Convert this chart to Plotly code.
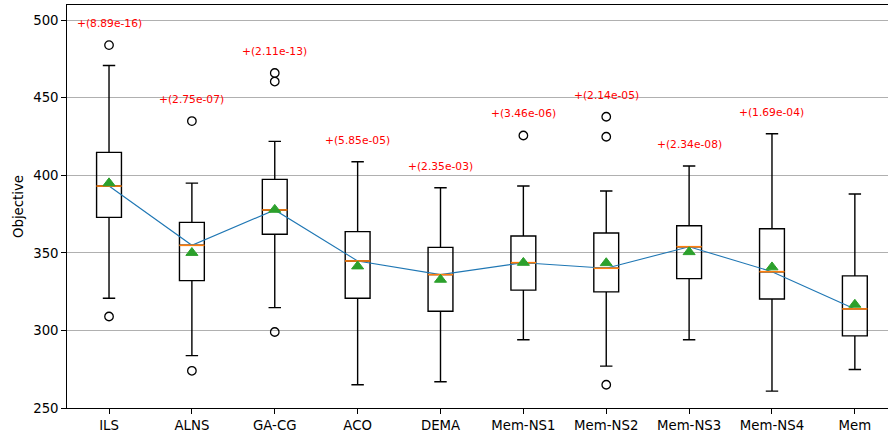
import plotly.graph_objects as go

methods = ["ILS", "ALNS", "GA-CG", "ACO", "DEMA", "Mem-NS1", "Mem-NS2", "Mem-NS3", "Mem-NS4", "Mem"]
positions = list(range(1, len(methods) + 1))

q1 = [372.9, 332.1, 362.0, 320.8, 312.4, 326.0, 324.9, 333.4, 320.3, 296.5]
median = [393.1, 354.9, 377.7, 344.8, 336.0, 343.7, 340.1, 354.0, 337.9, 313.9]
q3 = [414.8, 369.7, 397.4, 363.7, 353.6, 360.9, 362.8, 367.5, 365.6, 335.2]
lower_whisker = [320.8, 283.8, 314.7, 265.0, 266.9, 294.0, 277.0, 294.0, 260.9, 274.8]
upper_whisker = [470.8, 395.0, 421.9, 408.8, 392.0, 393.1, 389.9, 406.0, 426.8, 388.0]
means = [395.0, 350.1, 377.9, 341.4, 332.8, 343.7, 343.5, 350.6, 340.8, 316.7]
outliers = [
    [484.0, 309.0],
    [435.0, 274.0],
    [466.0, 460.5, 299.0],
    [],
    [],
    [425.7],
    [437.8, 424.9, 265.0],
    [],
    [],
    [],
]
p_labels = ["+(8.89e-16)", "+(2.75e-07)", "+(2.11e-13)", "+(5.85e-05)", "+(2.35e-03)",
            "+(3.46e-06)", "+(2.14e-05)", "+(2.34e-08)", "+(1.69e-04)", None]
y_ticks = [250, 300, 350, 400, 450, 500]

FONT = "DejaVu Sans"
fig = go.Figure()

fig.add_trace(go.Box(
    x=positions, q1=q1, median=median, q3=q3,
    lowerfence=lower_whisker, upperfence=upper_whisker,
    width=0.3, whiskerwidth=0.5, boxpoints=False,
    line=dict(color="black", width=1.4), fillcolor="rgba(0,0,0,0)",
    showlegend=False, hoverinfo="skip",
))

# line connecting medians
fig.add_trace(go.Scatter(
    x=positions, y=median, mode="lines",
    line=dict(color="#1f77b4", width=1.1), showlegend=False, hoverinfo="skip",
))

# orange medians
fig.add_trace(go.Scatter(
    x=positions, y=median, mode="markers",
    marker=dict(symbol="line-ew", size=18, line=dict(color="#ff7f0e", width=1.6)),
    showlegend=False, hoverinfo="skip",
))

# means
fig.add_trace(go.Scatter(
    x=positions, y=means, mode="markers",
    marker=dict(symbol="triangle-up", size=10.5, color="#2ca02c",
                line=dict(color="#2ca02c", width=1)),
    showlegend=False, hoverinfo="skip",
))

# outliers
ox, oy = [], []
for p, vals in zip(positions, outliers):
    for v in vals:
        ox.append(p)
        oy.append(v)
fig.add_trace(go.Scatter(
    x=ox, y=oy, mode="markers",
    marker=dict(symbol="circle-open", size=8.5, color="black", line=dict(color="black", width=1.3)),
    showlegend=False, hoverinfo="skip",
))

# p-value annotations
for p, lab, uw, outs in zip(positions, p_labels, upper_whisker, outliers):
    if lab is None:
        continue
    top = max([uw] + outs)
    fig.add_annotation(
        x=p, y=top + 14, text=lab, showarrow=False,
        font=dict(family=FONT, size=10.7, color="red"),
        xanchor="center", yanchor="middle",
    )

fig.update_layout(
    width=888, height=436,
    margin=dict(l=67, r=0, t=5, b=28),
    paper_bgcolor="white", plot_bgcolor="white",
    font=dict(family=FONT, size=13.3, color="black"),
    xaxis=dict(
        range=[0.493, 10.4], tickvals=positions, ticktext=methods,
        showgrid=False, zeroline=False,
        showline=True, linecolor="black", linewidth=1.1, mirror=True,
        ticks="outside", ticklen=4.7, tickwidth=1.1, tickcolor="black",
        tickfont=dict(family=FONT, size=13.3, color="black"),
    ),
    yaxis=dict(
        range=[250, 509.85], tickvals=y_ticks,
        showgrid=True, gridcolor="#b0b0b0", gridwidth=1.1, zeroline=False,
        showline=True, linecolor="black", linewidth=1.1,
        ticks="outside", ticklen=4.7, tickwidth=1.1, tickcolor="black",
        tickfont=dict(family=FONT, size=13.3, color="black"),
        title=dict(text="Objective", standoff=6, font=dict(family=FONT, size=13.3, color="black")),
    ),
)

fig.write_html("out.html")
